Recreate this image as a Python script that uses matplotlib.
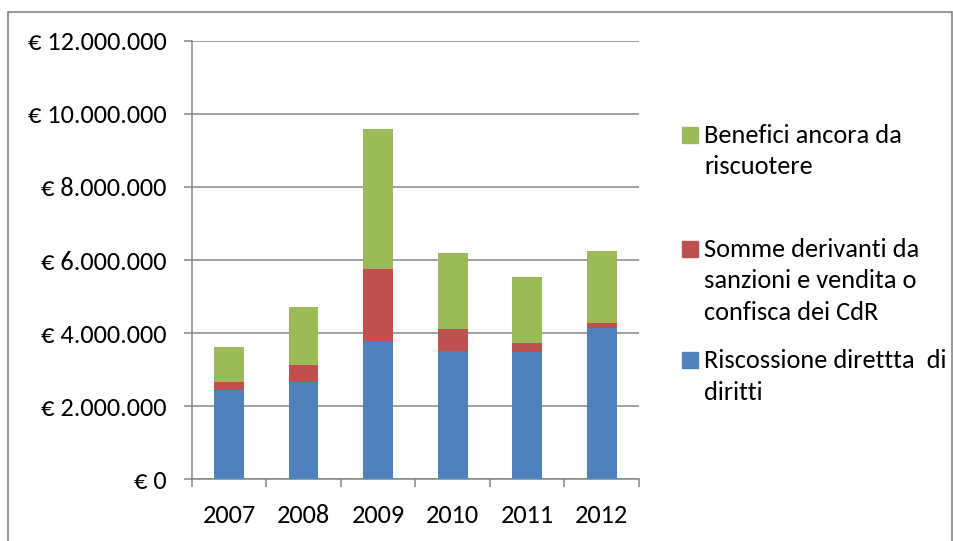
import matplotlib
matplotlib.use("Agg")
import matplotlib.pyplot as plt
from matplotlib.patches import Rectangle
from matplotlib.ticker import FuncFormatter, FixedLocator
import numpy as np

plt.rcParams["font.family"] = ["Carlito", "Lato", "DejaVu Sans"]

# ---- data (euro) ----
years = ["2007", "2008", "2009", "2010", "2011", "2012"]
riscossione = [2440000, 2650000, 3790000, 3520000, 3470000, 4130000]
sanzioni = [210000, 490000, 1970000, 600000, 270000, 150000]
benefici = [980000, 1580000, 3820000, 2080000, 1800000, 1970000]
labels = ["Benefici ancora da\nriscuotere",
          "Somme derivanti da\nsanzioni e vendita o\nconfisca dei CdR",
          "Riscossione direttta  di\ndiritti"]
colors = ["#9BBB59", "#C0504D", "#4F81BD"]
GRID = "#868686"
FS = 19

W, H = 954, 541
fig = plt.figure(figsize=(W / 100, H / 100), dpi=100)
ax = fig.add_axes([191.7 / W, 1 - 479.3 / H, (639 - 191.7) / W, (479.3 - 40.7) / H])

x = np.arange(len(years))
b1 = np.array(riscossione)
b2 = b1 + np.array(sanzioni)
ax.bar(x, riscossione, width=0.4, color=colors[2], zorder=3)
ax.bar(x, sanzioni, width=0.4, bottom=b1, color=colors[1], zorder=3)
ax.bar(x, benefici, width=0.4, bottom=b2, color=colors[0], zorder=3)

ax.set_xlim(-0.5, len(years) - 0.5)
ax.set_ylim(0, 12000000)
ax.set_yticks(np.arange(0, 12000001, 2000000))
ax.yaxis.set_major_formatter(FuncFormatter(lambda v, p: "€ " + f"{int(v):,}".replace(",", ".")))
ax.grid(axis="y", color=GRID, lw=1.1, zorder=0)

ax.set_xticks(x)
ax.set_xticklabels(years)
ax.xaxis.set_minor_locator(FixedLocator(np.arange(-0.5, len(years), 1.0)))
ax.tick_params(axis="x", which="major", length=0, pad=18, labelsize=FS)
ax.tick_params(axis="x", which="minor", length=6, width=1.1, color=GRID, direction="out")
ax.tick_params(axis="y", length=6, width=1.1, color=GRID, pad=12, labelsize=FS)

for s in ["top", "right"]:
    ax.spines[s].set_visible(False)
for s in ["left", "bottom"]:
    ax.spines[s].set_color(GRID)
    ax.spines[s].set_linewidth(1.1)

# ---- legend drawn by hand (marker next to first line) ----
leg_y = [143, 257, 368]   # first-line baselines in pixels
line_h = 31.5
for lab, col, yb in zip(labels, colors, leg_y):
    fig.add_artist(Rectangle((682 / W, 1 - yb / H), 16 / W, 16 / H,
                             transform=fig.transFigure, color=col))
    for i, line in enumerate(lab.split("\n")):
        fig.text(704 / W, 1 - (yb + i * line_h) / H, line, fontsize=FS,
                 va="baseline", ha="left")

# outer chart frame
fig.add_artist(Rectangle((8 / W, -0.01), (952 - 8) / W, 1 - 12 / H + 0.01,
                         transform=fig.transFigure, fill=False, ec=GRID, lw=1.2))

fig.savefig("out.png", dpi=100)
